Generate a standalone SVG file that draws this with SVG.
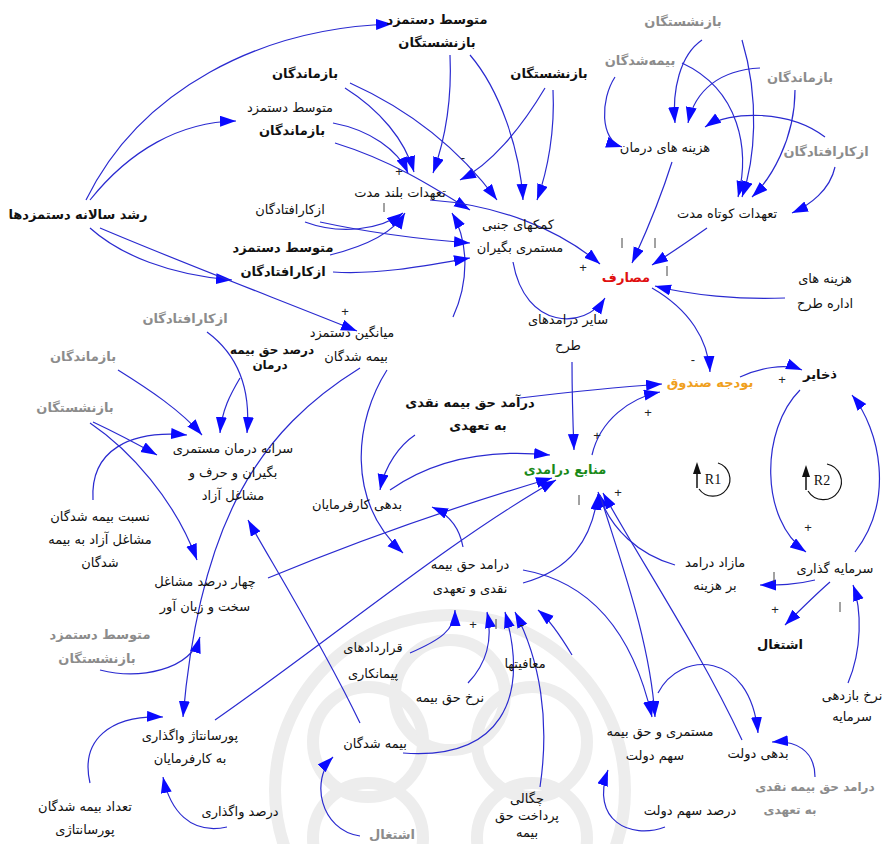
<svg xmlns="http://www.w3.org/2000/svg" width="885" height="844" viewBox="0 0 885 844">
<defs>
<marker id="ah" markerUnits="userSpaceOnUse" markerWidth="17" markerHeight="12" refX="16" refY="5.5" orient="auto">
<path d="M0,0 L16,5.5 L0,11 Z" fill="#0a0aff"/>
</marker>
<clipPath id="wm"><rect x="0" y="560" width="885" height="284"/></clipPath>
</defs>
<style>
.t{font-family:"DejaVu Sans","Noto Sans",sans-serif;font-size:13px;fill:#111;text-anchor:middle;direction:rtl}
.b{font-weight:bold}
.g{fill:#8c8c8c;font-weight:bold}
.c{fill:none;stroke:#2a2ad0;stroke-width:1.2;marker-end:url(#ah)}
.s{font-family:"Liberation Sans",sans-serif;font-size:13px;fill:#222;text-anchor:middle}
.d{stroke:#444;stroke-width:1}
.lp{fill:none;stroke:#111;stroke-width:1.2}
</style>
<rect width="885" height="844" fill="#fff"/>
<g id="watermark" clip-path="url(#wm)" fill="none" stroke="#ededed" stroke-width="12">
<circle cx="450" cy="790" r="175"/>
<circle cx="450" cy="695" r="55"/>
<circle cx="532" cy="742" r="55"/>
<circle cx="368" cy="742" r="55"/>
<circle cx="532" cy="838" r="55"/>
<circle cx="368" cy="838" r="55"/>
</g>
<g id="connectors">
<path class="c" d="M86,200 C140,90 260,28 392,24"/>
<path class="c" d="M90,200 C130,150 180,122 236,121"/>
<path class="c" d="M90,228 C120,255 170,275 232,280"/>
<path class="c" d="M100,228 C180,262 280,300 357,331"/>
<path class="c" d="M345,88 C380,110 405,140 414,172"/>
<path class="c" d="M333,123 C370,130 398,150 408,173"/>
<path class="c" d="M450,55 C452,100 445,140 433,173"/>
<path class="c" d="M545,88 C520,130 490,165 460,180"/>
<path class="c" d="M305,222 C340,235 380,230 403,213"/>
<path class="c" d="M330,255 C370,245 395,230 405,213"/>
<path class="c" d="M453,317 C470,280 468,240 452,213"/>
<path class="c" d="M350,83 C410,110 460,150 497,200"/>
<path class="c" d="M335,143 C390,160 430,185 470,210"/>
<path class="c" d="M470,55 C500,90 520,150 523,200"/>
<path class="c" d="M553,90 C555,130 548,170 537,200"/>
<path class="c" d="M320,222 C380,235 430,240 470,243"/>
<path class="c" d="M333,272 C380,275 430,265 470,258"/>
<path class="c" d="M430,200 C500,205 560,230 600,264"/>
<path class="c" d="M513,262 C525,330 585,330 605,298"/>
<path class="c" d="M672,162 C660,200 645,235 632,263"/>
<path class="c" d="M707,228 C690,240 668,255 652,265"/>
<path class="c" d="M785,298 C740,300 690,295 655,286"/>
<path class="c" d="M652,288 C690,310 708,340 710,372"/>
<path class="c" d="M740,377 C760,368 785,363 802,370"/>
<path class="c" d="M800,390 C760,430 760,520 806,552"/>
<path class="c" d="M855,552 C895,500 880,430 852,395"/>
<path class="c" d="M815,580 C795,585 780,585 760,585"/>
<path class="c" d="M830,582 C815,595 800,610 785,625"/>
<path class="c" d="M848,683 C862,650 862,610 853,585"/>
<path class="c" d="M675,565 C640,555 610,530 598,492"/>
<path class="c" d="M592,455 C600,420 630,398 660,392"/>
<path class="c" d="M520,398 C570,392 620,387 662,384"/>
<path class="c" d="M572,362 C572,400 573,425 574,450"/>
<path class="c" d="M415,435 C400,445 385,465 380,490"/>
<path class="c" d="M390,490 C440,455 500,450 550,455"/>
<path class="c" d="M268,578 C360,540 460,505 552,478"/>
<path class="c" d="M215,720 C330,640 450,540 556,480"/>
<path class="c" d="M463,547 C460,530 450,515 432,507"/>
<path class="c" d="M523,583 C570,570 592,540 598,494"/>
<path class="c" d="M387,370 C355,420 345,500 403,553"/>
<path class="c" d="M360,368 C260,430 200,520 183,717"/>
<path class="c" d="M410,653 C440,640 455,630 455,610"/>
<path class="c" d="M468,683 C490,660 492,635 487,612"/>
<path class="c" d="M403,753 C500,760 530,700 505,612"/>
<path class="c" d="M540,787 C550,720 540,660 515,612"/>
<path class="c" d="M572,655 C560,635 550,620 538,610"/>
<path class="c" d="M523,570 C580,580 630,620 652,717"/>
<path class="c" d="M600,495 C620,560 650,640 655,717"/>
<path class="c" d="M742,740 C700,650 640,560 603,493"/>
<path class="c" d="M658,693 C680,650 750,650 758,733"/>
<path class="c" d="M815,777 C815,750 795,740 772,742"/>
<path class="c" d="M665,827 C630,840 590,820 608,770"/>
<path class="c" d="M360,836 C320,830 310,780 333,757"/>
<path class="c" d="M360,723 C320,640 270,560 248,520"/>
<path class="c" d="M90,423 C130,450 175,500 197,560"/>
<path class="c" d="M93,422 C110,430 130,440 157,455"/>
<path class="c" d="M118,370 C150,390 180,410 202,435"/>
<path class="c" d="M207,332 C245,360 250,400 247,433"/>
<path class="c" d="M240,378 C230,395 222,410 220,433"/>
<path class="c" d="M93,500 C90,450 130,430 187,435"/>
<path class="c" d="M100,670 C140,680 190,670 200,637"/>
<path class="c" d="M90,783 C80,740 110,715 163,717"/>
<path class="c" d="M227,827 C190,835 170,810 163,777"/>
<path class="c" d="M702,40 C680,55 672,90 675,123"/>
<path class="c" d="M742,40 C760,100 755,160 742,197"/>
<path class="c" d="M615,77 C600,100 600,140 622,147"/>
<path class="c" d="M682,63 C740,90 750,150 738,197"/>
<path class="c" d="M760,68 C720,70 695,90 688,123"/>
<path class="c" d="M795,90 C795,140 770,180 752,197"/>
<path class="c" d="M825,137 C790,110 730,110 705,127"/>
<path class="c" d="M835,167 C830,190 810,205 792,213"/>
</g>
<g id="signs">
<text class="s" x="399" y="176">+</text>
<text class="s" x="463" y="162">-</text>
<line class="d" x1="384" y1="203" x2="384" y2="212"/>
<line class="d" x1="622" y1="238" x2="622" y2="248"/>
<line class="d" x1="655" y1="238" x2="655" y2="248"/>
<line class="d" x1="667" y1="266" x2="667" y2="276"/>
<text class="s" x="583" y="272">+</text>
<text class="s" x="345" y="316">+</text>
<text class="s" x="693" y="364">-</text>
<text class="s" x="782" y="384">+</text>
<text class="s" x="648" y="417">+</text>
<text class="s" x="597" y="440">+</text>
<line class="d" x1="579" y1="495" x2="579" y2="505"/>
<text class="s" x="618" y="497">+</text>
<text class="s" x="808" y="532">+</text>
<line class="d" x1="774" y1="572" x2="774" y2="582"/>
<text class="s" x="775" y="614">+</text>
<line class="d" x1="840" y1="602" x2="840" y2="612"/>
<text class="s" x="473" y="629">+</text>
<line class="d" x1="496" y1="619" x2="496" y2="629"/>
<text class="s" x="522" y="629">-</text>
</g>
<g id="loops">
<path class="lp" d="M718,463 A17,17 0 1,1 699,489"/>
<line x1="697" y1="488" x2="697" y2="472" stroke="#111" stroke-width="1.5"/>
<path d="M697,462 L693,474 L701,474 Z" fill="#111"/>
<text x="713" y="484" font-family="Liberation Serif,serif" font-size="14" text-anchor="middle" fill="#111">R1</text>
<path class="lp" d="M827,464 A18,18 0 1,1 808,491"/>
<line x1="806" y1="490" x2="806" y2="475" stroke="#111" stroke-width="1.5"/>
<path d="M806,465 L802,477 L810,477 Z" fill="#111"/>
<text x="822" y="485" font-family="Liberation Serif,serif" font-size="14" text-anchor="middle" fill="#111">R2</text>
</g>
<g id="n1"><text class="t b" x="437" y="24">متوسط دستمزد</text><text class="t b" x="437" y="47">بازنشستگان</text></g>
<g id="n2"><text class="t b" x="305" y="78">بازماندگان</text></g>
<g id="n3"><text class="t b" x="549" y="78">بازنشستگان</text></g>
<g id="n4"><text class="t" x="290" y="112">متوسط دستمزد</text><text class="t b" x="292" y="135">بازماندگان</text></g>
<g id="n5"><text class="t" x="400" y="197">تعهدات بلند مدت</text></g>
<g id="n6"><text class="t b" x="78" y="219">رشد سالانه دستمزدها</text></g>
<g id="n7"><text class="t" x="290" y="214">ازکارافتادگان</text></g>
<g id="n8"><text class="t b" x="283" y="252">متوسط دستمزد</text><text class="t b" x="283" y="276">ازکارافتادگان</text></g>
<g id="n9"><text class="t" x="518" y="229">کمکهای جنبی</text><text class="t" x="520" y="252">مستمری بگیران</text></g>
<g id="n10a"><text class="t g" x="683" y="26">بازنشستگان</text></g>
<g id="n10b"><text class="t g" x="640" y="65">بیمه‌شدگان</text></g>
<g id="n10c"><text class="t g" x="800" y="82">بازماندگان</text></g>
<g id="n10d"><text class="t g" x="826" y="156">ازکارافتادگان</text></g>
<g id="n11"><text class="t" x="665" y="152">هزینه های درمان</text></g>
<g id="n12"><text class="t" x="727" y="218">تعهدات کوتاه مدت</text></g>
<g id="n13"><text class="t b" x="626" y="282" style="fill:#e01010">مصارف</text></g>
<g id="n14"><text class="t" x="825" y="283">هزینه های</text><text class="t" x="825" y="308">اداره طرح</text></g>
<g id="n15"><text class="t" x="568" y="324">سایر درامدهای</text><text class="t" x="568" y="350">طرح</text></g>
<g id="n16"><text class="t" x="352" y="337">میانگین دستمزد</text><text class="t" x="356" y="361">بیمه شدگان</text></g>
<g id="n17"><text class="t g" x="185" y="323">ازکارافتادگان</text></g>
<g id="n18"><text class="t b" x="272" y="354" style="font-size:12px">درصد حق بیمه</text><text class="t b" x="270" y="369" style="font-size:12px">درمان</text></g>
<g id="n19"><text class="t g" x="83" y="361">بازماندگان</text></g>
<g id="n20"><text class="t g" x="75" y="412">بازنشستگان</text></g>
<g id="n21"><text class="t b" x="710" y="387" style="fill:#f0a020">بودجه صندوق</text></g>
<g id="n22"><text class="t b" x="820" y="379">ذخایر</text></g>
<g id="n23"><text class="t b" x="470" y="407">درآمد حق بیمه نقدی</text><text class="t b" x="478" y="430">به تعهدی</text></g>
<g id="n24"><text class="t" x="233" y="453">سرانه درمان مستمری</text><text class="t" x="233" y="477">بگیران و حرف و</text><text class="t" x="233" y="500">مشاغل آزاد</text></g>
<g id="n25"><text class="t b" x="565" y="474" style="fill:#1a8a1a">منابع درامدی</text></g>
<g id="n27"><text class="t" x="357" y="509">بدهی کارفرمایان</text></g>
<g id="n28"><text class="t" x="100" y="521">نسبت بیمه شدگان</text><text class="t" x="100" y="544">مشاغل آزاد به بیمه</text><text class="t" x="100" y="567">شدگان</text></g>
<g id="n29"><text class="t" x="470" y="569">درامد حق بیمه</text><text class="t" x="470" y="593">نقدی و تعهدی</text></g>
<g id="n30"><text class="t" x="715" y="567">مازاد درامد</text><text class="t" x="715" y="590">بر هزینه</text></g>
<g id="n31"><text class="t" x="835" y="573">سرمایه گذاری</text></g>
<g id="n32"><text class="t" x="205" y="586">چهار درصد مشاغل</text><text class="t" x="205" y="611">سخت و زیان آور</text></g>
<g id="n33"><text class="t g" x="100" y="639">متوسط دستمزد</text><text class="t g" x="97" y="663">بازنشستگان</text></g>
<g id="n34"><text class="t b" x="780" y="649">اشتغال</text></g>
<g id="n35"><text class="t" x="373" y="652">قراردادهای</text><text class="t" x="373" y="678">پیمانکاری</text></g>
<g id="n36"><text class="t" x="525" y="668">معافیتها</text></g>
<g id="n37"><text class="t" x="450" y="702">نرخ حق بیمه</text></g>
<g id="n38"><text class="t" x="852" y="700">نرخ بازدهی</text><text class="t" x="852" y="721">سرمایه</text></g>
<g id="n39"><text class="t" x="190" y="740">پورسانتاژ واگذاری</text><text class="t" x="190" y="763">به کارفرمایان</text></g>
<g id="n40"><text class="t" x="375" y="748">بیمه شدگان</text></g>
<g id="n41"><text class="t" x="660" y="736">مستمری و حق بیمه</text><text class="t" x="655" y="760">سهم دولت</text></g>
<g id="n42"><text class="t" x="758" y="758">بدهی دولت</text></g>
<g id="n43"><text class="t g" x="815" y="791" style="font-size:12px">درامد حق بیمه نقدی</text><text class="t g" x="790" y="814" style="font-size:12px">به تعهدی</text></g>
<g id="n44"><text class="t" x="85" y="811">تعداد بیمه شدگان</text><text class="t" x="85" y="834">پورسانتاژی</text></g>
<g id="n45"><text class="t" x="240" y="816">درصد واگذاری</text></g>
<g id="n46"><text class="t g" x="392" y="839">اشتغال</text></g>
<g id="n47"><text class="t" x="527" y="803">چگالی</text><text class="t" x="527" y="820">پرداخت حق</text><text class="t" x="527" y="837">بیمه</text></g>
<g id="n48"><text class="t" x="690" y="815">درصد سهم دولت</text></g>
</svg>
